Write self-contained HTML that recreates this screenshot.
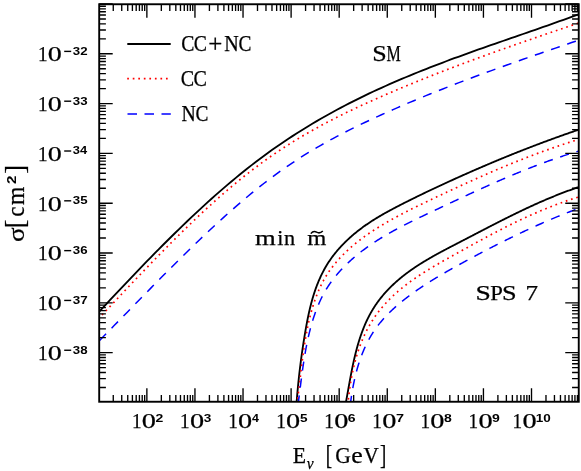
<!DOCTYPE html>
<html><head><meta charset="utf-8"><title>cross section</title>
<style>html,body{margin:0;padding:0;background:#fff;}body{width:581px;height:471px;overflow:hidden;font-family:"Liberation Serif",serif;}svg{display:block;will-change:transform;}</style></head>
<body>
<svg width="581" height="471" viewBox="0 0 581 471">
<rect width="581" height="471" fill="#fff"/>
<defs><clipPath id="cp"><rect x="99.20" y="4.25" width="479.55" height="397.50"/></clipPath></defs>
<g clip-path="url(#cp)" fill="none">
<path d="M98.20 312.75 L102.25 308.39 L106.29 304.05 L110.34 299.71 L114.39 295.39 L118.43 291.09 L122.48 286.80 L126.53 282.53 L130.57 278.27 L134.62 274.04 L138.67 269.82 L142.71 265.63 L146.76 261.46 L150.81 257.31 L154.85 253.19 L158.90 249.09 L162.95 245.02 L166.99 240.98 L171.04 236.97 L175.09 232.99 L179.13 229.05 L183.18 225.13 L187.23 221.25 L191.27 217.41 L195.32 213.60 L199.37 209.84 L203.41 206.11 L207.46 202.42 L211.51 198.77 L215.55 195.17 L219.60 191.61 L223.65 188.10 L227.69 184.63 L231.74 181.21 L235.79 177.84 L239.83 174.52 L243.88 171.25 L247.93 168.03 L251.97 164.86 L256.02 161.75 L260.07 158.70 L264.11 155.70 L268.16 152.75 L272.21 149.85 L276.25 147.01 L280.30 144.21 L284.35 141.47 L288.39 138.77 L292.44 136.12 L296.49 133.51 L300.53 130.96 L304.58 128.44 L308.63 125.97 L312.67 123.54 L316.72 121.15 L320.77 118.80 L324.81 116.49 L328.86 114.22 L332.91 111.99 L336.95 109.80 L341.00 107.64 L345.04 105.51 L349.09 103.42 L353.14 101.36 L357.18 99.33 L361.23 97.34 L365.28 95.37 L369.32 93.44 L373.37 91.53 L377.42 89.65 L381.46 87.80 L385.51 85.98 L389.56 84.18 L393.60 82.41 L397.65 80.66 L401.70 78.93 L405.74 77.23 L409.79 75.54 L413.84 73.88 L417.88 72.24 L421.93 70.62 L425.98 69.02 L430.02 67.43 L434.07 65.86 L438.12 64.31 L442.16 62.77 L446.21 61.25 L450.26 59.74 L454.30 58.24 L458.35 56.76 L462.40 55.29 L466.44 53.82 L470.49 52.37 L474.54 50.93 L478.58 49.49 L482.63 48.06 L486.68 46.64 L490.72 45.22 L494.77 43.81 L498.82 42.41 L502.86 41.00 L506.91 39.60 L510.96 38.20 L515.00 36.80 L519.05 35.40 L523.10 34.00 L527.14 32.60 L531.19 31.20 L535.24 29.79 L539.28 28.38 L543.33 26.96 L547.38 25.54 L551.42 24.11 L555.47 22.68 L559.52 21.24 L563.56 19.78 L567.61 18.32 L571.66 16.85 L575.70 15.37 L579.75 13.87" stroke="#000" stroke-width="1.85" stroke-linejoin="round"/>
<path d="M98.20 319.02 L102.25 314.72 L106.29 310.41 L110.34 306.10 L114.39 301.80 L118.43 297.50 L122.48 293.21 L126.53 288.93 L130.57 284.66 L134.62 280.40 L138.67 276.16 L142.71 271.93 L146.76 267.72 L150.81 263.52 L154.85 259.35 L158.90 255.21 L162.95 251.08 L166.99 246.99 L171.04 242.92 L175.09 238.88 L179.13 234.87 L183.18 230.90 L187.23 226.96 L191.27 223.06 L195.32 219.20 L199.37 215.37 L203.41 211.59 L207.46 207.86 L211.51 204.17 L215.55 200.53 L219.60 196.94 L223.65 193.40 L227.69 189.91 L231.74 186.47 L235.79 183.10 L239.83 179.78 L243.88 176.52 L247.93 173.33 L251.97 170.19 L256.02 167.12 L260.07 164.11 L264.11 161.16 L268.16 158.27 L272.21 155.44 L276.25 152.67 L280.30 149.95 L284.35 147.30 L288.39 144.70 L292.44 142.16 L296.49 139.67 L300.53 137.23 L304.58 134.84 L308.63 132.49 L312.67 130.20 L316.72 127.94 L320.77 125.73 L324.81 123.56 L328.86 121.43 L332.91 119.34 L336.95 117.28 L341.00 115.26 L345.04 113.27 L349.09 111.30 L353.14 109.37 L357.18 107.47 L361.23 105.59 L365.28 103.73 L369.32 101.89 L373.37 100.08 L377.42 98.28 L381.46 96.50 L385.51 94.74 L389.56 92.99 L393.60 91.26 L397.65 89.54 L401.70 87.84 L405.74 86.15 L409.79 84.47 L413.84 82.81 L417.88 81.16 L421.93 79.53 L425.98 77.90 L430.02 76.29 L434.07 74.70 L438.12 73.11 L442.16 71.54 L446.21 69.97 L450.26 68.42 L454.30 66.88 L458.35 65.35 L462.40 63.83 L466.44 62.32 L470.49 60.81 L474.54 59.32 L478.58 57.84 L482.63 56.36 L486.68 54.89 L490.72 53.43 L494.77 51.98 L498.82 50.53 L502.86 49.10 L506.91 47.66 L510.96 46.24 L515.00 44.82 L519.05 43.41 L523.10 42.00 L527.14 40.59 L531.19 39.20 L535.24 37.80 L539.28 36.41 L543.33 35.02 L547.38 33.64 L551.42 32.26 L555.47 30.89 L559.52 29.51 L563.56 28.14 L567.61 26.77 L571.66 25.40 L575.70 24.04 L579.75 22.67" stroke="#f00" stroke-width="1.7" stroke-dasharray="1.7 3.8" stroke-linejoin="round"/>
<path d="M98.20 341.79 L102.25 337.69 L106.29 333.59 L110.34 329.47 L114.39 325.34 L118.43 321.21 L122.48 317.07 L126.53 312.93 L130.57 308.79 L134.62 304.65 L138.67 300.51 L142.71 296.37 L146.76 292.24 L150.81 288.12 L154.85 284.01 L158.90 279.91 L162.95 275.83 L166.99 271.76 L171.04 267.70 L175.09 263.67 L179.13 259.65 L183.18 255.66 L187.23 251.69 L191.27 247.75 L195.32 243.83 L199.37 239.94 L203.41 236.09 L207.46 232.27 L211.51 228.48 L215.55 224.73 L219.60 221.02 L223.65 217.35 L227.69 213.72 L231.74 210.13 L235.79 206.59 L239.83 203.10 L243.88 199.65 L247.93 196.26 L251.97 192.92 L256.02 189.63 L260.07 186.40 L264.11 183.23 L268.16 180.12 L272.21 177.07 L276.25 174.09 L280.30 171.16 L284.35 168.31 L288.39 165.52 L292.44 162.80 L296.49 160.13 L300.53 157.52 L304.58 154.98 L308.63 152.48 L312.67 150.04 L316.72 147.65 L320.77 145.31 L324.81 143.02 L328.86 140.77 L332.91 138.57 L336.95 136.40 L341.00 134.28 L345.04 132.19 L349.09 130.14 L353.14 128.12 L357.18 126.14 L361.23 124.18 L365.28 122.25 L369.32 120.35 L373.37 118.47 L377.42 116.61 L381.46 114.77 L385.51 112.95 L389.56 111.14 L393.60 109.36 L397.65 107.59 L401.70 105.84 L405.74 104.11 L409.79 102.39 L413.84 100.69 L417.88 99.00 L421.93 97.33 L425.98 95.67 L430.02 94.03 L434.07 92.40 L438.12 90.79 L442.16 89.18 L446.21 87.60 L450.26 86.02 L454.30 84.45 L458.35 82.90 L462.40 81.36 L466.44 79.83 L470.49 78.31 L474.54 76.80 L478.58 75.30 L482.63 73.80 L486.68 72.32 L490.72 70.85 L494.77 69.38 L498.82 67.92 L502.86 66.47 L506.91 65.03 L510.96 63.59 L515.00 62.16 L519.05 60.73 L523.10 59.32 L527.14 57.90 L531.19 56.49 L535.24 55.08 L539.28 53.68 L543.33 52.28 L547.38 50.89 L551.42 49.50 L555.47 48.10 L559.52 46.72 L563.56 45.33 L567.61 43.94 L571.66 42.56 L575.70 41.17 L579.75 39.79" stroke="#00f" stroke-width="1.5" stroke-dasharray="9.2 7.85" stroke-linejoin="round" stroke-dashoffset="-2"/>
<path d="M296.45 404.36 L296.52 403.53 L296.58 402.70 L296.64 401.86 L296.71 401.03 L296.77 400.19 L296.84 399.35 L296.90 398.51 L296.97 397.67 L297.04 396.83 L297.11 395.99 L297.18 395.14 L297.26 394.29 L297.33 393.45 L297.41 392.60 L297.48 391.75 L297.56 390.90 L297.64 390.05 L297.72 389.19 L297.80 388.34 L297.88 387.48 L297.96 386.63 L298.04 385.77 L298.13 384.91 L298.21 384.05 L298.30 383.19 L298.39 382.33 L298.48 381.47 L298.57 380.61 L298.66 379.74 L298.75 378.88 L298.84 378.01 L298.94 377.15 L299.03 376.28 L299.13 375.41 L299.23 374.54 L299.32 373.68 L299.42 372.81 L299.52 371.94 L299.63 371.07 L299.73 370.19 L299.83 369.32 L299.94 368.45 L300.04 367.58 L300.15 366.71 L300.26 365.83 L300.37 364.96 L300.48 364.08 L300.59 363.21 L300.70 362.33 L300.81 361.46 L300.93 360.58 L301.04 359.71 L301.16 358.83 L301.28 357.95 L301.40 357.08 L301.52 356.20 L301.64 355.32 L301.76 354.45 L301.88 353.57 L302.00 352.69 L302.13 351.81 L302.26 350.94 L302.38 350.06 L302.51 349.18 L302.64 348.31 L302.77 347.43 L302.90 346.55 L303.03 345.67 L303.17 344.80 L303.30 343.92 L303.44 343.04 L303.57 342.17 L303.71 341.29 L303.85 340.42 L303.99 339.54 L304.13 338.66 L304.27 337.79 L304.41 336.91 L304.56 336.04 L304.70 335.17 L304.85 334.29 L305.00 333.42 L305.14 332.55 L305.29 331.68 L305.44 330.80 L305.59 329.93 L305.75 329.06 L305.90 328.19 L306.06 327.32 L306.21 326.46 L306.37 325.59 L306.53 324.72 L306.69 323.85 L306.85 322.99 L307.02 322.12 L307.18 321.26 L307.35 320.40 L307.52 319.53 L307.69 318.67 L307.87 317.81 L308.04 316.95 L308.22 316.09 L308.40 315.24 L308.59 314.38 L308.77 313.52 L308.96 312.67 L309.15 311.81 L309.34 310.96 L309.54 310.11 L309.74 309.26 L309.94 308.41 L310.14 307.56 L310.35 306.71 L310.56 305.87 L310.78 305.02 L310.99 304.18 L311.21 303.34 L311.44 302.50 L311.66 301.66 L311.89 300.82 L312.13 299.98 L312.36 299.15 L312.60 298.31 L312.85 297.48 L313.10 296.65 L313.35 295.82 L313.60 294.99 L313.86 294.17 L314.13 293.34 L314.40 292.52 L314.67 291.70 L314.95 290.88 L315.23 290.06 L315.51 289.25 L315.80 288.43 L316.09 287.62 L316.39 286.81 L316.70 286.00 L317.00 285.19 L317.32 284.39 L317.63 283.59 L317.95 282.79 L318.28 281.99 L318.61 281.19 L318.95 280.40 L319.29 279.61 L319.64 278.82 L319.99 278.03 L320.35 277.25 L320.71 276.46 L321.07 275.68 L321.45 274.91 L321.83 274.13 L322.21 273.36 L322.60 272.59 L322.99 271.82 L323.39 271.06 L323.80 270.30 L324.21 269.54 L324.63 268.78 L325.05 268.03 L325.48 267.27 L325.92 266.53 L326.36 265.78 L326.81 265.04 L327.26 264.30 L327.72 263.56 L328.19 262.83 L328.66 262.10 L329.14 261.37 L329.63 260.65 L330.12 259.93 L330.62 259.21 L331.13 258.49 L331.64 257.78 L332.16 257.07 L332.68 256.37 L333.21 255.67 L333.75 254.97 L334.29 254.27 L334.84 253.58 L335.39 252.90 L335.95 252.21 L336.51 251.53 L337.08 250.85 L337.65 250.18 L338.23 249.51 L338.82 248.85 L339.41 248.18 L340.00 247.53 L340.60 246.87 L341.20 246.22 L341.81 245.57 L342.42 244.93 L343.04 244.29 L343.66 243.66 L344.28 243.03 L344.91 242.40 L345.54 241.78 L346.18 241.16 L346.81 240.55 L347.46 239.94 L348.10 239.33 L348.75 238.73 L349.40 238.13 L350.06 237.54 L350.71 236.95 L351.37 236.37 L352.04 235.79 L352.70 235.21 L353.37 234.64 L354.04 234.08 L354.71 233.52 L355.39 232.96 L356.07 232.41 L356.75 231.86 L357.43 231.32 L358.11 230.78 L358.80 230.24 L359.48 229.71 L360.17 229.19 L360.86 228.67 L361.56 228.15 L362.25 227.63 L362.95 227.12 L363.65 226.62 L364.35 226.12 L365.06 225.62 L365.76 225.12 L366.47 224.63 L367.18 224.14 L367.89 223.66 L368.60 223.18 L369.32 222.70 L370.03 222.23 L370.75 221.76 L371.47 221.29 L372.19 220.82 L372.92 220.36 L373.64 219.90 L374.37 219.45 L375.10 218.99 L375.83 218.54 L376.56 218.09 L377.29 217.65 L378.03 217.21 L378.76 216.77 L379.50 216.33 L380.24 215.89 L380.98 215.46 L381.72 215.03 L382.47 214.60 L383.21 214.17 L383.96 213.75 L384.71 213.32 L385.46 212.90 L386.21 212.48 L386.97 212.07 L387.72 211.65 L388.48 211.24 L389.23 210.82 L389.99 210.41 L390.75 210.00 L391.51 209.60 L392.27 209.19 L393.04 208.78 L393.80 208.38 L394.57 207.98 L395.33 207.57 L396.10 207.17 L396.87 206.77 L397.64 206.37 L398.41 205.97 L399.19 205.57 L399.96 205.18 L400.73 204.78 L401.51 204.38 L402.29 203.99 L403.07 203.59 L403.84 203.20 L404.62 202.80 L405.41 202.41 L406.19 202.01 L406.97 201.62 L407.75 201.23 L408.54 200.83 L409.32 200.44 L410.11 200.05 L410.90 199.66 L411.69 199.27 L412.47 198.88 L413.26 198.49 L414.05 198.10 L414.85 197.71 L415.64 197.32 L416.43 196.93 L417.22 196.54 L418.02 196.15 L418.81 195.76 L419.61 195.38 L420.40 194.99 L421.20 194.60 L422.00 194.22 L422.80 193.83 L423.59 193.45 L424.39 193.06 L425.19 192.68 L425.99 192.29 L426.79 191.91 L427.59 191.53 L428.39 191.15 L429.20 190.76 L430.00 190.38 L430.80 190.00 L431.60 189.62 L432.41 189.24 L433.21 188.86 L434.01 188.48 L434.82 188.11 L435.62 187.73 L436.43 187.35 L437.23 186.98 L438.04 186.60 L438.84 186.22 L439.65 185.85 L440.45 185.47 L441.26 185.10 L442.07 184.73 L442.87 184.35 L443.68 183.98 L444.49 183.61 L445.29 183.24 L446.10 182.87 L446.91 182.50 L447.71 182.13 L448.52 181.76 L449.33 181.39 L450.13 181.02 L450.94 180.65 L451.75 180.29 L452.55 179.92 L453.36 179.56 L454.17 179.19 L454.97 178.83 L455.78 178.46 L456.58 178.10 L457.39 177.74 L458.20 177.37 L459.00 177.01 L459.81 176.65 L460.61 176.29 L461.41 175.93 L462.22 175.57 L463.02 175.22 L463.83 174.86 L464.63 174.50 L465.43 174.15 L466.24 173.79 L467.04 173.43 L467.84 173.08 L468.64 172.73 L469.45 172.37 L470.25 172.02 L471.05 171.67 L471.85 171.32 L472.65 170.97 L473.45 170.62 L474.25 170.27 L475.05 169.92 L475.85 169.57 L476.66 169.22 L477.46 168.87 L478.26 168.53 L479.06 168.18 L479.86 167.84 L480.66 167.49 L481.46 167.15 L482.26 166.80 L483.05 166.46 L483.85 166.12 L484.65 165.78 L485.45 165.44 L486.25 165.09 L487.05 164.75 L487.85 164.41 L488.65 164.08 L489.45 163.74 L490.25 163.40 L491.05 163.06 L491.85 162.72 L492.65 162.39 L493.45 162.05 L494.25 161.72 L495.05 161.38 L495.85 161.05 L496.65 160.72 L497.45 160.38 L498.25 160.05 L499.05 159.72 L499.85 159.39 L500.65 159.06 L501.45 158.73 L502.25 158.40 L503.05 158.07 L503.85 157.74 L504.65 157.41 L505.45 157.08 L506.25 156.76 L507.05 156.43 L507.85 156.10 L508.66 155.78 L509.46 155.45 L510.26 155.13 L511.06 154.80 L511.86 154.48 L512.67 154.16 L513.47 153.83 L514.27 153.51 L515.08 153.19 L515.88 152.87 L516.69 152.55 L517.49 152.23 L518.29 151.91 L519.10 151.59 L519.91 151.27 L520.71 150.95 L521.52 150.64 L522.32 150.32 L523.13 150.00 L523.94 149.69 L524.74 149.37 L525.55 149.05 L526.36 148.74 L527.17 148.43 L527.98 148.11 L528.79 147.80 L529.60 147.49 L530.41 147.17 L531.22 146.86 L532.03 146.55 L532.84 146.24 L533.65 145.93 L534.46 145.62 L535.28 145.31 L536.09 145.00 L536.90 144.69 L537.72 144.38 L538.53 144.07 L539.35 143.77 L540.16 143.46 L540.98 143.15 L541.80 142.85 L542.61 142.54 L543.43 142.23 L544.25 141.93 L545.07 141.63 L545.89 141.32 L546.71 141.02 L547.53 140.71 L548.35 140.41 L549.17 140.11 L550.00 139.81 L550.82 139.51 L551.64 139.20 L552.47 138.90 L553.29 138.60 L554.12 138.30 L554.95 138.00 L555.77 137.70 L556.60 137.41 L557.43 137.11 L558.26 136.81 L559.09 136.51 L559.92 136.21 L560.75 135.92 L561.58 135.62 L562.42 135.32 L563.25 135.03 L564.08 134.73 L564.92 134.44 L565.75 134.14 L566.59 133.85 L567.43 133.56 L568.27 133.26 L569.11 132.97 L569.95 132.68 L570.79 132.38 L571.63 132.09 L572.47 131.80 L573.31 131.51 L574.16 131.22 L575.00 130.93 L575.85 130.64 L576.70 130.35 L577.54 130.06 L578.39 129.77 L579.24 129.48 L580.09 129.19 L580.94 128.90" stroke="#000" stroke-width="1.85" stroke-linejoin="round"/>
<path d="M296.87 404.27 L296.98 403.47 L297.10 402.67 L297.21 401.87 L297.32 401.06 L297.43 400.26 L297.54 399.45 L297.65 398.64 L297.76 397.83 L297.87 397.01 L297.97 396.20 L298.08 395.38 L298.18 394.56 L298.29 393.74 L298.39 392.92 L298.49 392.10 L298.60 391.27 L298.70 390.44 L298.80 389.62 L298.90 388.79 L299.00 387.96 L299.10 387.12 L299.20 386.29 L299.30 385.46 L299.40 384.62 L299.50 383.78 L299.60 382.95 L299.70 382.11 L299.80 381.27 L299.89 380.42 L299.99 379.58 L300.09 378.74 L300.19 377.89 L300.29 377.05 L300.39 376.20 L300.49 375.35 L300.58 374.51 L300.68 373.66 L300.78 372.81 L300.88 371.96 L300.98 371.10 L301.08 370.25 L301.19 369.40 L301.29 368.55 L301.39 367.69 L301.49 366.84 L301.60 365.98 L301.70 365.13 L301.81 364.27 L301.91 363.41 L302.02 362.56 L302.12 361.70 L302.23 360.84 L302.34 359.98 L302.45 359.12 L302.56 358.26 L302.67 357.40 L302.79 356.55 L302.90 355.69 L303.02 354.83 L303.13 353.97 L303.25 353.11 L303.37 352.25 L303.49 351.39 L303.61 350.53 L303.73 349.67 L303.86 348.81 L303.98 347.95 L304.11 347.09 L304.24 346.23 L304.37 345.37 L304.50 344.51 L304.64 343.65 L304.77 342.80 L304.91 341.94 L305.05 341.08 L305.19 340.22 L305.33 339.37 L305.48 338.51 L305.62 337.66 L305.77 336.80 L305.92 335.95 L306.08 335.09 L306.23 334.24 L306.39 333.39 L306.55 332.54 L306.71 331.68 L306.87 330.83 L307.04 329.98 L307.21 329.14 L307.38 328.29 L307.55 327.44 L307.73 326.59 L307.90 325.75 L308.09 324.90 L308.27 324.06 L308.45 323.22 L308.64 322.38 L308.83 321.54 L309.03 320.70 L309.23 319.86 L309.43 319.03 L309.63 318.19 L309.83 317.36 L310.04 316.52 L310.25 315.69 L310.47 314.86 L310.69 314.03 L310.91 313.21 L311.13 312.38 L311.36 311.56 L311.59 310.73 L311.82 309.91 L312.06 309.09 L312.30 308.28 L312.54 307.46 L312.79 306.64 L313.04 305.83 L313.30 305.02 L313.55 304.21 L313.81 303.40 L314.08 302.60 L314.35 301.79 L314.62 300.99 L314.90 300.19 L315.18 299.39 L315.46 298.60 L315.75 297.80 L316.04 297.01 L316.34 296.22 L316.64 295.44 L316.95 294.65 L317.26 293.87 L317.57 293.09 L317.89 292.31 L318.22 291.53 L318.55 290.76 L318.88 289.98 L319.22 289.21 L319.56 288.45 L319.91 287.68 L320.27 286.92 L320.63 286.16 L320.99 285.40 L321.36 284.65 L321.74 283.90 L322.12 283.15 L322.51 282.40 L322.90 281.66 L323.30 280.92 L323.70 280.18 L324.11 279.44 L324.53 278.71 L324.95 277.98 L325.38 277.25 L325.81 276.53 L326.25 275.81 L326.70 275.09 L327.15 274.37 L327.61 273.66 L328.08 272.95 L328.55 272.25 L329.03 271.54 L329.52 270.85 L330.01 270.15 L330.51 269.46 L331.01 268.77 L331.52 268.08 L332.03 267.40 L332.55 266.72 L333.08 266.04 L333.61 265.37 L334.14 264.70 L334.68 264.03 L335.23 263.37 L335.78 262.71 L336.33 262.06 L336.89 261.40 L337.45 260.76 L338.02 260.11 L338.59 259.47 L339.17 258.83 L339.75 258.20 L340.33 257.57 L340.92 256.95 L341.51 256.33 L342.11 255.71 L342.70 255.09 L343.31 254.48 L343.91 253.88 L344.52 253.28 L345.13 252.68 L345.74 252.09 L346.36 251.50 L346.98 250.91 L347.60 250.33 L348.22 249.75 L348.85 249.18 L349.48 248.61 L350.11 248.04 L350.75 247.48 L351.39 246.92 L352.03 246.37 L352.67 245.81 L353.32 245.27 L353.97 244.72 L354.62 244.18 L355.27 243.64 L355.93 243.11 L356.59 242.58 L357.25 242.05 L357.91 241.52 L358.58 241.00 L359.25 240.48 L359.92 239.97 L360.59 239.46 L361.27 238.95 L361.94 238.44 L362.62 237.94 L363.30 237.44 L363.99 236.94 L364.67 236.44 L365.36 235.95 L366.05 235.46 L366.75 234.98 L367.44 234.49 L368.14 234.01 L368.84 233.53 L369.54 233.06 L370.24 232.58 L370.94 232.11 L371.65 231.64 L372.36 231.17 L373.07 230.71 L373.78 230.24 L374.50 229.78 L375.21 229.33 L375.93 228.87 L376.65 228.42 L377.37 227.96 L378.09 227.51 L378.82 227.06 L379.54 226.62 L380.27 226.17 L381.00 225.73 L381.73 225.29 L382.46 224.85 L383.20 224.41 L383.93 223.98 L384.67 223.54 L385.41 223.11 L386.14 222.68 L386.89 222.25 L387.63 221.82 L388.37 221.39 L389.12 220.97 L389.86 220.55 L390.61 220.12 L391.36 219.70 L392.11 219.29 L392.86 218.87 L393.61 218.45 L394.37 218.04 L395.12 217.63 L395.88 217.21 L396.63 216.80 L397.39 216.39 L398.15 215.99 L398.91 215.58 L399.67 215.18 L400.43 214.77 L401.19 214.37 L401.96 213.97 L402.72 213.57 L403.49 213.17 L404.25 212.77 L405.02 212.38 L405.79 211.98 L406.56 211.59 L407.33 211.19 L408.10 210.80 L408.87 210.41 L409.64 210.02 L410.41 209.63 L411.18 209.24 L411.95 208.85 L412.73 208.47 L413.50 208.08 L414.28 207.70 L415.05 207.31 L415.83 206.93 L416.60 206.55 L417.38 206.17 L418.15 205.79 L418.93 205.41 L419.71 205.03 L420.49 204.65 L421.26 204.27 L422.04 203.90 L422.82 203.52 L423.60 203.15 L424.38 202.77 L425.16 202.40 L425.93 202.02 L426.71 201.65 L427.49 201.28 L428.27 200.91 L429.05 200.54 L429.83 200.16 L430.61 199.79 L431.39 199.42 L432.17 199.05 L432.94 198.69 L433.72 198.32 L434.50 197.95 L435.28 197.58 L436.06 197.21 L436.84 196.84 L437.61 196.48 L438.39 196.11 L439.17 195.74 L439.95 195.38 L440.72 195.01 L441.50 194.65 L442.28 194.28 L443.05 193.92 L443.83 193.55 L444.61 193.19 L445.38 192.83 L446.16 192.46 L446.93 192.10 L447.71 191.74 L448.48 191.37 L449.26 191.01 L450.04 190.65 L450.81 190.29 L451.59 189.93 L452.36 189.57 L453.14 189.21 L453.91 188.85 L454.69 188.49 L455.46 188.13 L456.24 187.77 L457.01 187.42 L457.78 187.06 L458.56 186.70 L459.33 186.35 L460.11 185.99 L460.88 185.63 L461.66 185.28 L462.43 184.92 L463.21 184.57 L463.98 184.22 L464.76 183.86 L465.53 183.51 L466.30 183.16 L467.08 182.80 L467.85 182.45 L468.63 182.10 L469.40 181.75 L470.18 181.40 L470.95 181.05 L471.73 180.70 L472.50 180.35 L473.28 180.00 L474.05 179.66 L474.83 179.31 L475.60 178.96 L476.38 178.62 L477.15 178.27 L477.93 177.92 L478.70 177.58 L479.48 177.24 L480.25 176.89 L481.03 176.55 L481.81 176.20 L482.58 175.86 L483.36 175.52 L484.14 175.18 L484.91 174.84 L485.69 174.50 L486.47 174.16 L487.24 173.82 L488.02 173.48 L488.80 173.14 L489.58 172.80 L490.35 172.47 L491.13 172.13 L491.91 171.80 L492.69 171.46 L493.47 171.13 L494.25 170.79 L495.02 170.46 L495.80 170.12 L496.58 169.79 L497.36 169.46 L498.14 169.13 L498.92 168.80 L499.70 168.47 L500.48 168.14 L501.27 167.81 L502.05 167.48 L502.83 167.15 L503.61 166.83 L504.39 166.50 L505.18 166.17 L505.96 165.85 L506.74 165.52 L507.53 165.20 L508.31 164.88 L509.09 164.55 L509.88 164.23 L510.66 163.91 L511.45 163.59 L512.23 163.27 L513.02 162.95 L513.81 162.63 L514.59 162.31 L515.38 161.99 L516.17 161.68 L516.95 161.36 L517.74 161.05 L518.53 160.73 L519.32 160.42 L520.11 160.10 L520.90 159.79 L521.69 159.48 L522.48 159.17 L523.27 158.86 L524.06 158.55 L524.85 158.24 L525.65 157.93 L526.44 157.62 L527.23 157.31 L528.03 157.01 L528.82 156.70 L529.61 156.39 L530.41 156.09 L531.20 155.79 L532.00 155.48 L532.80 155.18 L533.59 154.88 L534.39 154.58 L535.19 154.28 L535.99 153.98 L536.79 153.68 L537.59 153.38 L538.39 153.08 L539.19 152.79 L539.99 152.49 L540.79 152.20 L541.59 151.90 L542.40 151.61 L543.20 151.32 L544.01 151.03 L544.81 150.73 L545.62 150.44 L546.42 150.16 L547.23 149.87 L548.04 149.58 L548.84 149.29 L549.65 149.01 L550.46 148.72 L551.27 148.44 L552.08 148.15 L552.89 147.87 L553.70 147.59 L554.52 147.30 L555.33 147.02 L556.14 146.74 L556.96 146.47 L557.77 146.19 L558.59 145.91 L559.40 145.63 L560.22 145.36 L561.04 145.08 L561.86 144.81 L562.67 144.54 L563.49 144.26 L564.32 143.99 L565.14 143.72 L565.96 143.45 L566.78 143.18 L567.60 142.92 L568.43 142.65 L569.25 142.38 L570.08 142.12 L570.91 141.85 L571.73 141.59 L572.56 141.33 L573.39 141.06 L574.22 140.80 L575.05 140.54 L575.88 140.28 L576.71 140.03 L577.55 139.77 L578.38 139.51 L579.21 139.26 L580.05 139.00 L580.88 138.75" stroke="#f00" stroke-width="1.7" stroke-dasharray="1.7 3.8" stroke-linejoin="round"/>
<path d="M298.07 404.55 L298.18 403.76 L298.29 402.96 L298.39 402.16 L298.50 401.35 L298.60 400.55 L298.71 399.75 L298.81 398.94 L298.91 398.14 L299.02 397.33 L299.12 396.52 L299.22 395.71 L299.33 394.90 L299.43 394.09 L299.53 393.28 L299.63 392.46 L299.73 391.65 L299.84 390.83 L299.94 390.02 L300.04 389.20 L300.14 388.38 L300.25 387.56 L300.35 386.74 L300.45 385.92 L300.56 385.10 L300.66 384.28 L300.76 383.46 L300.87 382.64 L300.97 381.81 L301.08 380.99 L301.18 380.16 L301.29 379.34 L301.40 378.51 L301.51 377.69 L301.61 376.86 L301.72 376.03 L301.83 375.21 L301.94 374.38 L302.05 373.55 L302.17 372.72 L302.28 371.89 L302.39 371.07 L302.51 370.24 L302.62 369.41 L302.74 368.58 L302.86 367.75 L302.97 366.92 L303.09 366.09 L303.22 365.26 L303.34 364.43 L303.46 363.60 L303.59 362.77 L303.71 361.94 L303.84 361.11 L303.97 360.29 L304.10 359.46 L304.23 358.63 L304.36 357.80 L304.50 356.97 L304.63 356.14 L304.77 355.31 L304.91 354.49 L305.05 353.66 L305.19 352.83 L305.34 352.01 L305.48 351.18 L305.63 350.35 L305.78 349.53 L305.93 348.71 L306.09 347.88 L306.24 347.06 L306.40 346.23 L306.56 345.41 L306.72 344.59 L306.89 343.77 L307.05 342.95 L307.22 342.13 L307.39 341.31 L307.57 340.49 L307.74 339.68 L307.92 338.86 L308.10 338.05 L308.28 337.23 L308.46 336.42 L308.65 335.60 L308.84 334.79 L309.03 333.98 L309.23 333.17 L309.43 332.36 L309.63 331.56 L309.83 330.75 L310.03 329.95 L310.24 329.14 L310.45 328.34 L310.67 327.54 L310.88 326.74 L311.10 325.94 L311.33 325.14 L311.55 324.34 L311.78 323.55 L312.01 322.76 L312.25 321.96 L312.49 321.17 L312.73 320.38 L312.97 319.60 L313.22 318.81 L313.47 318.03 L313.73 317.24 L313.98 316.46 L314.25 315.68 L314.51 314.90 L314.78 314.13 L315.05 313.35 L315.33 312.58 L315.61 311.81 L315.89 311.04 L316.18 310.27 L316.47 309.51 L316.76 308.74 L317.06 307.98 L317.37 307.22 L317.67 306.46 L317.98 305.71 L318.30 304.95 L318.62 304.20 L318.95 303.45 L319.28 302.70 L319.61 301.96 L319.95 301.22 L320.29 300.47 L320.64 299.74 L320.99 299.00 L321.35 298.26 L321.71 297.53 L322.08 296.80 L322.45 296.08 L322.83 295.35 L323.21 294.63 L323.60 293.91 L323.99 293.19 L324.39 292.48 L324.80 291.76 L325.21 291.05 L325.62 290.35 L326.04 289.64 L326.47 288.94 L326.90 288.24 L327.34 287.54 L327.78 286.85 L328.23 286.16 L328.69 285.47 L329.15 284.78 L329.62 284.10 L330.09 283.42 L330.57 282.74 L331.05 282.07 L331.54 281.40 L332.03 280.73 L332.53 280.07 L333.03 279.40 L333.54 278.75 L334.06 278.09 L334.57 277.44 L335.10 276.79 L335.62 276.14 L336.15 275.50 L336.69 274.86 L337.23 274.22 L337.77 273.59 L338.32 272.96 L338.87 272.33 L339.43 271.70 L339.98 271.08 L340.55 270.47 L341.11 269.85 L341.68 269.24 L342.25 268.64 L342.83 268.03 L343.41 267.44 L343.99 266.84 L344.57 266.25 L345.16 265.66 L345.75 265.07 L346.34 264.49 L346.94 263.91 L347.54 263.34 L348.14 262.77 L348.74 262.20 L349.35 261.64 L349.95 261.08 L350.57 260.52 L351.18 259.96 L351.80 259.41 L352.41 258.87 L353.04 258.32 L353.66 257.78 L354.29 257.24 L354.92 256.71 L355.55 256.17 L356.18 255.65 L356.82 255.12 L357.46 254.60 L358.10 254.08 L358.74 253.56 L359.38 253.05 L360.03 252.54 L360.68 252.03 L361.33 251.52 L361.99 251.02 L362.64 250.52 L363.30 250.03 L363.96 249.53 L364.63 249.04 L365.29 248.55 L365.96 248.07 L366.63 247.58 L367.30 247.10 L367.97 246.62 L368.64 246.15 L369.32 245.68 L370.00 245.21 L370.68 244.74 L371.36 244.27 L372.05 243.81 L372.73 243.35 L373.42 242.89 L374.11 242.44 L374.80 241.98 L375.49 241.53 L376.19 241.08 L376.89 240.64 L377.58 240.19 L378.28 239.75 L378.98 239.31 L379.69 238.87 L380.39 238.44 L381.10 238.00 L381.80 237.57 L382.51 237.14 L383.22 236.72 L383.94 236.29 L384.65 235.87 L385.36 235.44 L386.08 235.02 L386.80 234.61 L387.52 234.19 L388.24 233.78 L388.96 233.36 L389.68 232.95 L390.40 232.54 L391.13 232.14 L391.85 231.73 L392.58 231.33 L393.31 230.92 L394.04 230.52 L394.77 230.12 L395.50 229.73 L396.23 229.33 L396.97 228.94 L397.70 228.54 L398.44 228.15 L399.17 227.76 L399.91 227.37 L400.65 226.98 L401.39 226.60 L402.13 226.21 L402.87 225.83 L403.61 225.44 L404.35 225.06 L405.10 224.68 L405.84 224.30 L406.59 223.93 L407.33 223.55 L408.08 223.17 L408.82 222.80 L409.57 222.42 L410.32 222.05 L411.07 221.68 L411.82 221.31 L412.57 220.94 L413.32 220.57 L414.07 220.20 L414.82 219.83 L415.57 219.47 L416.32 219.10 L417.07 218.74 L417.83 218.37 L418.58 218.01 L419.33 217.65 L420.09 217.28 L420.84 216.92 L421.59 216.56 L422.35 216.20 L423.10 215.84 L423.86 215.48 L424.61 215.12 L425.37 214.76 L426.12 214.40 L426.88 214.05 L427.63 213.69 L428.39 213.33 L429.14 212.97 L429.90 212.62 L430.65 212.26 L431.41 211.90 L432.16 211.55 L432.92 211.19 L433.67 210.84 L434.43 210.48 L435.18 210.13 L435.94 209.77 L436.69 209.41 L437.44 209.06 L438.20 208.70 L438.95 208.35 L439.70 207.99 L440.46 207.64 L441.21 207.28 L441.96 206.93 L442.72 206.58 L443.47 206.22 L444.22 205.87 L444.97 205.51 L445.73 205.16 L446.48 204.80 L447.23 204.45 L447.98 204.10 L448.73 203.74 L449.48 203.39 L450.24 203.04 L450.99 202.68 L451.74 202.33 L452.49 201.98 L453.24 201.63 L453.99 201.27 L454.74 200.92 L455.49 200.57 L456.24 200.22 L457.00 199.87 L457.75 199.52 L458.50 199.17 L459.25 198.81 L460.00 198.46 L460.75 198.11 L461.50 197.76 L462.25 197.41 L463.00 197.07 L463.75 196.72 L464.50 196.37 L465.25 196.02 L466.00 195.67 L466.75 195.32 L467.50 194.98 L468.25 194.63 L469.00 194.28 L469.76 193.93 L470.51 193.59 L471.26 193.24 L472.01 192.90 L472.76 192.55 L473.51 192.21 L474.26 191.86 L475.01 191.52 L475.76 191.17 L476.51 190.83 L477.27 190.49 L478.02 190.15 L478.77 189.80 L479.52 189.46 L480.27 189.12 L481.02 188.78 L481.78 188.44 L482.53 188.10 L483.28 187.76 L484.03 187.42 L484.78 187.08 L485.54 186.74 L486.29 186.40 L487.04 186.07 L487.80 185.73 L488.55 185.39 L489.30 185.06 L490.06 184.72 L490.81 184.39 L491.56 184.05 L492.32 183.72 L493.07 183.38 L493.83 183.05 L494.58 182.72 L495.34 182.39 L496.09 182.05 L496.85 181.72 L497.60 181.39 L498.36 181.06 L499.12 180.73 L499.87 180.41 L500.63 180.08 L501.39 179.75 L502.14 179.42 L502.90 179.10 L503.66 178.77 L504.42 178.44 L505.17 178.12 L505.93 177.80 L506.69 177.47 L507.45 177.15 L508.21 176.83 L508.97 176.51 L509.73 176.18 L510.49 175.86 L511.25 175.54 L512.01 175.23 L512.77 174.91 L513.54 174.59 L514.30 174.27 L515.06 173.96 L515.82 173.64 L516.59 173.33 L517.35 173.01 L518.11 172.70 L518.88 172.39 L519.64 172.07 L520.41 171.76 L521.17 171.45 L521.94 171.14 L522.70 170.83 L523.47 170.52 L524.24 170.22 L525.01 169.91 L525.77 169.60 L526.54 169.30 L527.31 168.99 L528.08 168.69 L528.85 168.39 L529.62 168.08 L530.39 167.78 L531.16 167.48 L531.93 167.18 L532.70 166.88 L533.48 166.58 L534.25 166.29 L535.02 165.99 L535.80 165.69 L536.57 165.40 L537.35 165.10 L538.12 164.81 L538.90 164.52 L539.67 164.23 L540.45 163.94 L541.23 163.65 L542.01 163.36 L542.78 163.07 L543.56 162.78 L544.34 162.50 L545.12 162.21 L545.90 161.93 L546.69 161.64 L547.47 161.36 L548.25 161.08 L549.03 160.80 L549.82 160.52 L550.60 160.24 L551.39 159.96 L552.17 159.69 L552.96 159.41 L553.74 159.13 L554.53 158.86 L555.32 158.59 L556.11 158.32 L556.90 158.04 L557.69 157.77 L558.48 157.51 L559.27 157.24 L560.06 156.97 L560.85 156.70 L561.64 156.44 L562.44 156.18 L563.23 155.91 L564.03 155.65 L564.82 155.39 L565.62 155.13 L566.42 154.87 L567.21 154.62 L568.01 154.36 L568.81 154.10 L569.61 153.85 L570.41 153.60 L571.21 153.34 L572.02 153.09 L572.82 152.84 L573.62 152.59 L574.43 152.35 L575.23 152.10 L576.04 151.86 L576.84 151.61 L577.65 151.37 L578.46 151.13 L579.27 150.89 L580.08 150.65 L580.89 150.41" stroke="#00f" stroke-width="1.5" stroke-dasharray="9.2 7.85" stroke-linejoin="round"/>
<path d="M345.52 404.39 L345.65 403.74 L345.77 403.09 L345.89 402.44 L346.01 401.79 L346.13 401.14 L346.25 400.49 L346.38 399.83 L346.50 399.18 L346.62 398.52 L346.74 397.86 L346.86 397.20 L346.98 396.54 L347.10 395.88 L347.21 395.22 L347.33 394.55 L347.45 393.89 L347.57 393.22 L347.69 392.56 L347.81 391.89 L347.93 391.22 L348.05 390.55 L348.17 389.88 L348.29 389.20 L348.41 388.53 L348.53 387.86 L348.65 387.18 L348.77 386.51 L348.90 385.83 L349.02 385.15 L349.14 384.48 L349.26 383.80 L349.38 383.12 L349.51 382.44 L349.63 381.76 L349.76 381.08 L349.88 380.40 L350.01 379.72 L350.13 379.04 L350.26 378.35 L350.39 377.67 L350.51 376.99 L350.64 376.30 L350.77 375.62 L350.90 374.93 L351.03 374.25 L351.17 373.56 L351.30 372.88 L351.43 372.19 L351.57 371.51 L351.70 370.82 L351.84 370.14 L351.97 369.45 L352.11 368.77 L352.25 368.08 L352.39 367.39 L352.53 366.71 L352.68 366.02 L352.82 365.34 L352.97 364.65 L353.11 363.96 L353.26 363.28 L353.41 362.59 L353.56 361.91 L353.71 361.22 L353.86 360.54 L354.02 359.85 L354.17 359.17 L354.33 358.49 L354.49 357.80 L354.65 357.12 L354.81 356.44 L354.98 355.76 L355.14 355.07 L355.31 354.39 L355.47 353.71 L355.64 353.03 L355.82 352.35 L355.99 351.68 L356.16 351.00 L356.34 350.32 L356.52 349.64 L356.70 348.97 L356.88 348.29 L357.07 347.62 L357.25 346.95 L357.44 346.27 L357.63 345.60 L357.82 344.93 L358.02 344.26 L358.21 343.59 L358.41 342.92 L358.61 342.26 L358.82 341.59 L359.02 340.93 L359.23 340.26 L359.44 339.60 L359.65 338.94 L359.86 338.28 L360.08 337.62 L360.30 336.96 L360.52 336.31 L360.74 335.65 L360.97 335.00 L361.20 334.34 L361.43 333.69 L361.66 333.04 L361.90 332.39 L362.13 331.75 L362.38 331.10 L362.62 330.46 L362.87 329.82 L363.12 329.17 L363.37 328.54 L363.62 327.90 L363.88 327.26 L364.14 326.63 L364.40 326.00 L364.67 325.36 L364.94 324.74 L365.21 324.11 L365.48 323.48 L365.76 322.86 L366.04 322.24 L366.33 321.62 L366.61 321.00 L366.90 320.38 L367.20 319.77 L367.49 319.16 L367.79 318.55 L368.09 317.94 L368.40 317.33 L368.71 316.73 L369.02 316.12 L369.34 315.52 L369.66 314.92 L369.98 314.33 L370.30 313.73 L370.63 313.14 L370.96 312.55 L371.30 311.96 L371.64 311.37 L371.98 310.79 L372.33 310.20 L372.68 309.62 L373.03 309.04 L373.38 308.46 L373.74 307.89 L374.11 307.32 L374.47 306.75 L374.85 306.18 L375.22 305.61 L375.60 305.05 L375.98 304.48 L376.37 303.92 L376.75 303.36 L377.15 302.81 L377.54 302.25 L377.95 301.70 L378.35 301.15 L378.76 300.60 L379.17 300.06 L379.58 299.51 L380.00 298.97 L380.43 298.43 L380.85 297.90 L381.28 297.36 L381.71 296.83 L382.15 296.30 L382.59 295.77 L383.03 295.25 L383.48 294.72 L383.92 294.20 L384.38 293.68 L384.83 293.17 L385.29 292.65 L385.75 292.14 L386.21 291.63 L386.68 291.12 L387.15 290.62 L387.62 290.11 L388.10 289.61 L388.58 289.12 L389.06 288.62 L389.54 288.13 L390.03 287.63 L390.52 287.15 L391.01 286.66 L391.50 286.18 L392.00 285.69 L392.50 285.21 L393.00 284.74 L393.50 284.26 L394.01 283.79 L394.52 283.32 L395.03 282.85 L395.54 282.39 L396.05 281.93 L396.57 281.47 L397.09 281.01 L397.61 280.56 L398.13 280.10 L398.66 279.65 L399.18 279.21 L399.71 278.76 L400.24 278.32 L400.78 277.88 L401.31 277.44 L401.85 277.01 L402.38 276.57 L402.92 276.14 L403.46 275.72 L404.01 275.29 L404.55 274.87 L405.10 274.45 L405.65 274.03 L406.19 273.61 L406.75 273.20 L407.30 272.78 L407.85 272.37 L408.41 271.97 L408.97 271.56 L409.53 271.16 L410.09 270.76 L410.65 270.36 L411.21 269.96 L411.78 269.56 L412.34 269.17 L412.91 268.78 L413.48 268.39 L414.05 268.00 L414.62 267.61 L415.19 267.23 L415.77 266.84 L416.34 266.46 L416.92 266.08 L417.50 265.71 L418.08 265.33 L418.66 264.96 L419.24 264.58 L419.82 264.21 L420.41 263.84 L420.99 263.48 L421.58 263.11 L422.16 262.75 L422.75 262.38 L423.34 262.02 L423.93 261.66 L424.52 261.30 L425.12 260.94 L425.71 260.59 L426.30 260.23 L426.90 259.88 L427.49 259.53 L428.09 259.18 L428.69 258.83 L429.29 258.48 L429.89 258.13 L430.49 257.79 L431.09 257.44 L431.69 257.10 L432.29 256.76 L432.90 256.41 L433.50 256.07 L434.11 255.73 L434.71 255.40 L435.32 255.06 L435.92 254.72 L436.53 254.39 L437.14 254.05 L437.75 253.72 L438.36 253.38 L438.97 253.05 L439.58 252.72 L440.19 252.39 L440.80 252.06 L441.41 251.73 L442.02 251.40 L442.63 251.08 L443.25 250.75 L443.86 250.42 L444.47 250.10 L445.09 249.77 L445.70 249.45 L446.32 249.12 L446.93 248.80 L447.55 248.48 L448.16 248.15 L448.78 247.83 L449.39 247.51 L450.01 247.19 L450.62 246.87 L451.24 246.55 L451.86 246.23 L452.47 245.91 L453.09 245.59 L453.71 245.27 L454.32 244.95 L454.94 244.63 L455.56 244.31 L456.17 243.99 L456.79 243.67 L457.41 243.35 L458.02 243.03 L458.64 242.72 L459.26 242.40 L459.87 242.08 L460.49 241.76 L461.10 241.44 L461.72 241.12 L462.33 240.80 L462.95 240.49 L463.56 240.17 L464.18 239.85 L464.79 239.53 L465.41 239.21 L466.02 238.89 L466.64 238.57 L467.25 238.25 L467.87 237.93 L468.48 237.61 L469.09 237.30 L469.71 236.98 L470.32 236.66 L470.93 236.34 L471.55 236.02 L472.16 235.70 L472.77 235.38 L473.39 235.06 L474.00 234.74 L474.61 234.42 L475.22 234.10 L475.84 233.79 L476.45 233.47 L477.06 233.15 L477.67 232.83 L478.29 232.51 L478.90 232.19 L479.51 231.88 L480.12 231.56 L480.74 231.24 L481.35 230.92 L481.96 230.60 L482.57 230.29 L483.18 229.97 L483.80 229.65 L484.41 229.33 L485.02 229.02 L485.63 228.70 L486.24 228.38 L486.86 228.07 L487.47 227.75 L488.08 227.43 L488.69 227.12 L489.31 226.80 L489.92 226.49 L490.53 226.17 L491.14 225.86 L491.75 225.54 L492.37 225.23 L492.98 224.91 L493.59 224.60 L494.20 224.29 L494.82 223.97 L495.43 223.66 L496.04 223.34 L496.66 223.03 L497.27 222.72 L497.88 222.41 L498.49 222.10 L499.11 221.78 L499.72 221.47 L500.33 221.16 L500.95 220.85 L501.56 220.54 L502.18 220.23 L502.79 219.92 L503.40 219.61 L504.02 219.30 L504.63 218.99 L505.25 218.69 L505.86 218.38 L506.48 218.07 L507.09 217.76 L507.71 217.46 L508.32 217.15 L508.94 216.84 L509.55 216.54 L510.17 216.23 L510.79 215.93 L511.40 215.62 L512.02 215.32 L512.63 215.02 L513.25 214.71 L513.87 214.41 L514.49 214.11 L515.10 213.81 L515.72 213.51 L516.34 213.20 L516.96 212.90 L517.58 212.60 L518.20 212.31 L518.81 212.01 L519.43 211.71 L520.05 211.41 L520.67 211.11 L521.29 210.82 L521.91 210.52 L522.53 210.22 L523.16 209.93 L523.78 209.63 L524.40 209.34 L525.02 209.05 L525.64 208.75 L526.27 208.46 L526.89 208.17 L527.51 207.88 L528.14 207.59 L528.76 207.30 L529.38 207.01 L530.01 206.72 L530.63 206.43 L531.26 206.14 L531.88 205.86 L532.51 205.57 L533.14 205.29 L533.76 205.00 L534.39 204.72 L535.02 204.43 L535.64 204.15 L536.27 203.87 L536.90 203.59 L537.53 203.31 L538.16 203.02 L538.79 202.75 L539.42 202.47 L540.05 202.19 L540.68 201.91 L541.31 201.63 L541.94 201.36 L542.58 201.08 L543.21 200.81 L543.84 200.53 L544.48 200.26 L545.11 199.99 L545.75 199.72 L546.38 199.45 L547.02 199.18 L547.65 198.91 L548.29 198.64 L548.93 198.37 L549.56 198.10 L550.20 197.84 L550.84 197.57 L551.48 197.31 L552.12 197.05 L552.76 196.78 L553.40 196.52 L554.04 196.26 L554.68 196.00 L555.32 195.74 L555.97 195.48 L556.61 195.22 L557.25 194.97 L557.90 194.71 L558.54 194.46 L559.19 194.20 L559.83 193.95 L560.48 193.70 L561.13 193.45 L561.77 193.20 L562.42 192.95 L563.07 192.70 L563.72 192.45 L564.37 192.20 L565.02 191.96 L565.67 191.71 L566.32 191.47 L566.98 191.23 L567.63 190.98 L568.28 190.74 L568.94 190.50 L569.59 190.26 L570.25 190.03 L570.90 189.79 L571.56 189.55 L572.22 189.32 L572.88 189.09 L573.54 188.85 L574.19 188.62 L574.86 188.39 L575.52 188.16 L576.18 187.93 L576.84 187.70 L577.50 187.48 L578.17 187.25 L578.83 187.03 L579.50 186.80 L580.16 186.58 L580.83 186.36" stroke="#000" stroke-width="1.85" stroke-linejoin="round"/>
<path d="M347.87 405.07 L347.92 404.40 L347.98 403.73 L348.04 403.06 L348.10 402.39 L348.16 401.72 L348.23 401.05 L348.29 400.37 L348.36 399.70 L348.42 399.03 L348.49 398.36 L348.56 397.69 L348.64 397.01 L348.71 396.34 L348.79 395.67 L348.86 395.00 L348.94 394.32 L349.02 393.65 L349.11 392.98 L349.19 392.30 L349.27 391.63 L349.36 390.96 L349.45 390.28 L349.54 389.61 L349.63 388.94 L349.73 388.26 L349.82 387.59 L349.92 386.92 L350.02 386.24 L350.12 385.57 L350.22 384.90 L350.33 384.22 L350.43 383.55 L350.54 382.88 L350.65 382.21 L350.76 381.54 L350.88 380.86 L350.99 380.19 L351.11 379.52 L351.23 378.85 L351.35 378.18 L351.47 377.51 L351.60 376.84 L351.72 376.17 L351.85 375.50 L351.98 374.84 L352.12 374.17 L352.25 373.50 L352.39 372.83 L352.53 372.17 L352.67 371.50 L352.81 370.84 L352.96 370.17 L353.11 369.51 L353.25 368.84 L353.41 368.18 L353.56 367.52 L353.72 366.86 L353.87 366.20 L354.03 365.54 L354.20 364.88 L354.36 364.22 L354.53 363.56 L354.70 362.90 L354.87 362.24 L355.04 361.59 L355.22 360.93 L355.39 360.28 L355.57 359.63 L355.76 358.97 L355.94 358.32 L356.13 357.67 L356.32 357.02 L356.51 356.37 L356.70 355.73 L356.90 355.08 L357.10 354.43 L357.30 353.79 L357.50 353.15 L357.71 352.50 L357.92 351.86 L358.13 351.22 L358.34 350.58 L358.56 349.94 L358.77 349.31 L359.00 348.67 L359.22 348.04 L359.44 347.40 L359.67 346.77 L359.90 346.14 L360.14 345.51 L360.37 344.88 L360.61 344.26 L360.85 343.63 L361.10 343.01 L361.34 342.38 L361.59 341.76 L361.84 341.14 L362.10 340.52 L362.36 339.91 L362.62 339.29 L362.88 338.68 L363.14 338.06 L363.41 337.45 L363.68 336.84 L363.96 336.24 L364.23 335.63 L364.51 335.02 L364.79 334.42 L365.08 333.82 L365.36 333.22 L365.65 332.62 L365.95 332.02 L366.24 331.43 L366.54 330.84 L366.84 330.24 L367.15 329.65 L367.46 329.07 L367.77 328.48 L368.08 327.90 L368.40 327.31 L368.72 326.73 L369.04 326.15 L369.36 325.58 L369.69 325.00 L370.02 324.43 L370.36 323.86 L370.69 323.29 L371.04 322.72 L371.38 322.16 L371.73 321.59 L372.07 321.03 L372.43 320.47 L372.78 319.92 L373.14 319.36 L373.50 318.81 L373.87 318.26 L374.24 317.71 L374.61 317.17 L374.98 316.62 L375.36 316.08 L375.74 315.54 L376.13 315.00 L376.51 314.47 L376.90 313.93 L377.30 313.40 L377.69 312.87 L378.09 312.35 L378.49 311.82 L378.90 311.30 L379.31 310.78 L379.72 310.26 L380.13 309.74 L380.54 309.23 L380.96 308.72 L381.38 308.21 L381.81 307.70 L382.24 307.19 L382.66 306.69 L383.10 306.19 L383.53 305.69 L383.97 305.19 L384.41 304.69 L384.85 304.20 L385.30 303.71 L385.74 303.22 L386.19 302.73 L386.65 302.25 L387.10 301.76 L387.56 301.28 L388.02 300.80 L388.48 300.33 L388.94 299.85 L389.41 299.38 L389.88 298.91 L390.35 298.44 L390.82 297.97 L391.30 297.51 L391.78 297.05 L392.26 296.58 L392.74 296.13 L393.22 295.67 L393.71 295.21 L394.20 294.76 L394.69 294.31 L395.18 293.86 L395.68 293.42 L396.17 292.97 L396.67 292.53 L397.17 292.09 L397.68 291.65 L398.18 291.21 L398.69 290.78 L399.19 290.34 L399.70 289.91 L400.22 289.48 L400.73 289.06 L401.25 288.63 L401.76 288.21 L402.28 287.79 L402.80 287.37 L403.32 286.95 L403.85 286.53 L404.37 286.12 L404.90 285.71 L405.43 285.30 L405.96 284.89 L406.49 284.48 L407.03 284.08 L407.56 283.67 L408.10 283.27 L408.64 282.87 L409.18 282.47 L409.72 282.08 L410.26 281.68 L410.80 281.29 L411.35 280.90 L411.89 280.51 L412.44 280.12 L412.99 279.73 L413.54 279.34 L414.09 278.96 L414.65 278.58 L415.20 278.19 L415.76 277.81 L416.31 277.43 L416.87 277.06 L417.43 276.68 L417.99 276.31 L418.55 275.93 L419.11 275.56 L419.68 275.19 L420.24 274.82 L420.81 274.45 L421.37 274.08 L421.94 273.72 L422.51 273.35 L423.08 272.99 L423.65 272.63 L424.22 272.27 L424.79 271.91 L425.36 271.55 L425.94 271.19 L426.51 270.83 L427.09 270.48 L427.66 270.12 L428.24 269.77 L428.82 269.42 L429.40 269.06 L429.98 268.71 L430.56 268.36 L431.14 268.01 L431.72 267.67 L432.30 267.32 L432.88 266.97 L433.46 266.63 L434.05 266.28 L434.63 265.94 L435.22 265.59 L435.80 265.25 L436.39 264.91 L436.97 264.57 L437.56 264.23 L438.15 263.89 L438.73 263.55 L439.32 263.21 L439.91 262.87 L440.50 262.54 L441.08 262.20 L441.67 261.86 L442.26 261.53 L442.85 261.19 L443.44 260.86 L444.03 260.52 L444.62 260.19 L445.21 259.86 L445.80 259.52 L446.39 259.19 L446.98 258.86 L447.57 258.53 L448.16 258.20 L448.75 257.87 L449.34 257.54 L449.93 257.21 L450.52 256.88 L451.11 256.55 L451.70 256.22 L452.29 255.89 L452.88 255.56 L453.47 255.23 L454.06 254.90 L454.65 254.58 L455.24 254.25 L455.83 253.92 L456.42 253.59 L457.01 253.26 L457.60 252.94 L458.19 252.61 L458.78 252.28 L459.37 251.95 L459.95 251.63 L460.54 251.30 L461.13 250.97 L461.72 250.65 L462.31 250.32 L462.89 250.00 L463.48 249.67 L464.07 249.34 L464.65 249.02 L465.24 248.69 L465.83 248.37 L466.42 248.04 L467.00 247.72 L467.59 247.40 L468.18 247.07 L468.76 246.75 L469.35 246.42 L469.94 246.10 L470.52 245.78 L471.11 245.46 L471.69 245.13 L472.28 244.81 L472.87 244.49 L473.45 244.17 L474.04 243.85 L474.63 243.52 L475.21 243.20 L475.80 242.88 L476.38 242.56 L476.97 242.24 L477.56 241.92 L478.14 241.61 L478.73 241.29 L479.31 240.97 L479.90 240.65 L480.49 240.33 L481.07 240.01 L481.66 239.70 L482.25 239.38 L482.83 239.06 L483.42 238.75 L484.01 238.43 L484.59 238.12 L485.18 237.80 L485.77 237.49 L486.35 237.17 L486.94 236.86 L487.53 236.54 L488.11 236.23 L488.70 235.92 L489.29 235.61 L489.88 235.29 L490.46 234.98 L491.05 234.67 L491.64 234.36 L492.23 234.05 L492.81 233.74 L493.40 233.43 L493.99 233.12 L494.58 232.82 L495.17 232.51 L495.76 232.20 L496.35 231.89 L496.94 231.59 L497.53 231.28 L498.11 230.97 L498.70 230.67 L499.29 230.37 L499.88 230.06 L500.48 229.76 L501.07 229.45 L501.66 229.15 L502.25 228.85 L502.84 228.55 L503.43 228.25 L504.02 227.95 L504.61 227.65 L505.21 227.35 L505.80 227.05 L506.39 226.75 L506.98 226.45 L507.58 226.15 L508.17 225.86 L508.77 225.56 L509.36 225.27 L509.95 224.97 L510.55 224.68 L511.14 224.38 L511.74 224.09 L512.33 223.80 L512.93 223.50 L513.53 223.21 L514.12 222.92 L514.72 222.63 L515.32 222.34 L515.91 222.05 L516.51 221.76 L517.11 221.48 L517.71 221.19 L518.31 220.90 L518.91 220.62 L519.51 220.33 L520.11 220.05 L520.71 219.76 L521.31 219.48 L521.91 219.20 L522.51 218.92 L523.11 218.63 L523.72 218.35 L524.32 218.07 L524.92 217.79 L525.53 217.52 L526.13 217.24 L526.73 216.96 L527.34 216.68 L527.94 216.41 L528.55 216.13 L529.16 215.86 L529.76 215.59 L530.37 215.31 L530.98 215.04 L531.59 214.77 L532.20 214.50 L532.80 214.23 L533.41 213.96 L534.02 213.69 L534.64 213.42 L535.25 213.16 L535.86 212.89 L536.47 212.63 L537.08 212.36 L537.70 212.10 L538.31 211.84 L538.92 211.57 L539.54 211.31 L540.15 211.05 L540.77 210.79 L541.39 210.53 L542.00 210.28 L542.62 210.02 L543.24 209.76 L543.86 209.51 L544.48 209.25 L545.10 209.00 L545.72 208.74 L546.34 208.49 L546.96 208.24 L547.58 207.99 L548.21 207.74 L548.83 207.49 L549.45 207.24 L550.08 207.00 L550.70 206.75 L551.33 206.51 L551.96 206.26 L552.58 206.02 L553.21 205.78 L553.84 205.54 L554.47 205.29 L555.10 205.05 L555.73 204.82 L556.36 204.58 L556.99 204.34 L557.63 204.11 L558.26 203.87 L558.90 203.64 L559.53 203.40 L560.17 203.17 L560.80 202.94 L561.44 202.71 L562.08 202.48 L562.71 202.25 L563.35 202.02 L563.99 201.80 L564.63 201.57 L565.28 201.35 L565.92 201.13 L566.56 200.90 L567.21 200.68 L567.85 200.46 L568.49 200.24 L569.14 200.02 L569.79 199.81 L570.44 199.59 L571.08 199.37 L571.73 199.16 L572.38 198.95 L573.03 198.74 L573.69 198.52 L574.34 198.31 L574.99 198.11 L575.65 197.90 L576.30 197.69 L576.96 197.49 L577.61 197.28 L578.27 197.08 L578.93 196.87 L579.59 196.67 L580.25 196.47 L580.91 196.27" stroke="#f00" stroke-width="1.7" stroke-dasharray="1.7 3.8" stroke-linejoin="round"/>
<path d="M350.28 404.94 L350.36 404.30 L350.44 403.66 L350.52 403.02 L350.60 402.38 L350.68 401.74 L350.77 401.10 L350.85 400.45 L350.94 399.81 L351.03 399.17 L351.12 398.53 L351.21 397.88 L351.30 397.24 L351.40 396.60 L351.49 395.96 L351.59 395.31 L351.69 394.67 L351.79 394.03 L351.89 393.39 L351.99 392.74 L352.10 392.10 L352.21 391.46 L352.32 390.82 L352.43 390.17 L352.54 389.53 L352.65 388.89 L352.77 388.25 L352.88 387.61 L353.00 386.96 L353.12 386.32 L353.24 385.68 L353.37 385.04 L353.49 384.40 L353.62 383.76 L353.75 383.12 L353.88 382.48 L354.02 381.84 L354.15 381.20 L354.29 380.57 L354.43 379.93 L354.57 379.29 L354.71 378.66 L354.86 378.02 L355.00 377.38 L355.15 376.75 L355.30 376.11 L355.45 375.48 L355.61 374.85 L355.77 374.21 L355.92 373.58 L356.09 372.95 L356.25 372.32 L356.41 371.69 L356.58 371.06 L356.75 370.43 L356.92 369.80 L357.10 369.18 L357.27 368.55 L357.45 367.93 L357.63 367.30 L357.82 366.68 L358.00 366.06 L358.19 365.43 L358.38 364.81 L358.57 364.19 L358.77 363.58 L358.96 362.96 L359.16 362.34 L359.36 361.72 L359.57 361.11 L359.77 360.50 L359.98 359.88 L360.20 359.27 L360.41 358.66 L360.63 358.05 L360.84 357.45 L361.07 356.84 L361.29 356.23 L361.52 355.63 L361.75 355.03 L361.98 354.42 L362.21 353.82 L362.45 353.22 L362.69 352.63 L362.93 352.03 L363.18 351.44 L363.43 350.84 L363.68 350.25 L363.93 349.66 L364.18 349.07 L364.44 348.48 L364.71 347.90 L364.97 347.31 L365.24 346.73 L365.51 346.15 L365.78 345.57 L366.06 344.99 L366.33 344.41 L366.62 343.84 L366.90 343.26 L367.19 342.69 L367.48 342.12 L367.77 341.55 L368.07 340.99 L368.37 340.42 L368.67 339.86 L368.97 339.30 L369.28 338.74 L369.59 338.18 L369.91 337.63 L370.23 337.07 L370.55 336.52 L370.87 335.97 L371.20 335.42 L371.53 334.88 L371.86 334.33 L372.20 333.79 L372.54 333.25 L372.88 332.71 L373.23 332.18 L373.58 331.64 L373.93 331.11 L374.28 330.58 L374.64 330.05 L375.01 329.53 L375.37 329.01 L375.74 328.49 L376.12 327.97 L376.49 327.45 L376.87 326.94 L377.25 326.43 L377.64 325.92 L378.03 325.41 L378.42 324.90 L378.81 324.40 L379.21 323.90 L379.61 323.40 L380.01 322.90 L380.42 322.40 L380.83 321.91 L381.24 321.42 L381.66 320.93 L382.07 320.44 L382.49 319.96 L382.92 319.48 L383.34 319.00 L383.77 318.52 L384.20 318.04 L384.63 317.56 L385.07 317.09 L385.51 316.62 L385.95 316.15 L386.39 315.68 L386.84 315.22 L387.29 314.75 L387.74 314.29 L388.19 313.83 L388.64 313.38 L389.10 312.92 L389.56 312.47 L390.02 312.01 L390.48 311.56 L390.95 311.12 L391.42 310.67 L391.89 310.22 L392.36 309.78 L392.83 309.34 L393.31 308.90 L393.78 308.46 L394.26 308.03 L394.74 307.59 L395.22 307.16 L395.71 306.73 L396.19 306.30 L396.68 305.87 L397.17 305.45 L397.66 305.02 L398.15 304.60 L398.65 304.18 L399.14 303.76 L399.64 303.35 L400.14 302.93 L400.64 302.52 L401.14 302.11 L401.64 301.70 L402.14 301.29 L402.65 300.88 L403.15 300.47 L403.66 300.07 L404.17 299.67 L404.68 299.27 L405.19 298.87 L405.70 298.47 L406.21 298.07 L406.72 297.68 L407.24 297.29 L407.75 296.89 L408.27 296.50 L408.78 296.12 L409.30 295.73 L409.82 295.34 L410.34 294.96 L410.86 294.58 L411.38 294.19 L411.90 293.81 L412.42 293.44 L412.94 293.06 L413.46 292.68 L413.99 292.31 L414.51 291.94 L415.03 291.56 L415.56 291.19 L416.08 290.83 L416.61 290.46 L417.14 290.09 L417.66 289.73 L418.19 289.36 L418.72 289.00 L419.25 288.64 L419.78 288.28 L420.31 287.92 L420.84 287.56 L421.37 287.21 L421.90 286.85 L422.43 286.50 L422.96 286.14 L423.50 285.79 L424.03 285.44 L424.56 285.09 L425.10 284.74 L425.63 284.40 L426.17 284.05 L426.71 283.70 L427.24 283.36 L427.78 283.02 L428.32 282.67 L428.85 282.33 L429.39 281.99 L429.93 281.65 L430.47 281.32 L431.01 280.98 L431.55 280.64 L432.09 280.31 L432.64 279.97 L433.18 279.64 L433.72 279.30 L434.26 278.97 L434.81 278.64 L435.35 278.31 L435.89 277.98 L436.44 277.65 L436.99 277.32 L437.53 276.99 L438.08 276.67 L438.62 276.34 L439.17 276.01 L439.72 275.69 L440.27 275.37 L440.82 275.04 L441.36 274.72 L441.91 274.40 L442.46 274.08 L443.01 273.75 L443.57 273.43 L444.12 273.11 L444.67 272.80 L445.22 272.48 L445.77 272.16 L446.33 271.84 L446.88 271.52 L447.43 271.21 L447.99 270.89 L448.54 270.58 L449.10 270.26 L449.65 269.95 L450.21 269.63 L450.76 269.32 L451.32 269.00 L451.88 268.69 L452.44 268.38 L452.99 268.06 L453.55 267.75 L454.11 267.44 L454.67 267.13 L455.23 266.82 L455.79 266.51 L456.35 266.20 L456.91 265.89 L457.47 265.58 L458.03 265.27 L458.59 264.96 L459.15 264.65 L459.72 264.34 L460.28 264.03 L460.84 263.72 L461.41 263.41 L461.97 263.10 L462.53 262.79 L463.10 262.48 L463.66 262.17 L464.23 261.87 L464.79 261.56 L465.36 261.25 L465.93 260.94 L466.49 260.63 L467.06 260.33 L467.63 260.02 L468.19 259.71 L468.76 259.40 L469.33 259.10 L469.90 258.79 L470.47 258.48 L471.04 258.18 L471.61 257.87 L472.18 257.57 L472.75 257.26 L473.32 256.95 L473.89 256.65 L474.46 256.34 L475.03 256.04 L475.60 255.73 L476.17 255.43 L476.75 255.13 L477.32 254.82 L477.89 254.52 L478.46 254.21 L479.04 253.91 L479.61 253.61 L480.19 253.30 L480.76 253.00 L481.33 252.70 L481.91 252.40 L482.48 252.09 L483.06 251.79 L483.63 251.49 L484.21 251.19 L484.79 250.89 L485.36 250.59 L485.94 250.29 L486.52 249.99 L487.09 249.69 L487.67 249.39 L488.25 249.09 L488.83 248.79 L489.40 248.49 L489.98 248.19 L490.56 247.89 L491.14 247.60 L491.72 247.30 L492.30 247.00 L492.88 246.70 L493.46 246.41 L494.03 246.11 L494.61 245.82 L495.20 245.52 L495.78 245.22 L496.36 244.93 L496.94 244.63 L497.52 244.34 L498.10 244.05 L498.68 243.75 L499.26 243.46 L499.84 243.17 L500.43 242.87 L501.01 242.58 L501.59 242.29 L502.17 242.00 L502.76 241.71 L503.34 241.42 L503.92 241.13 L504.50 240.84 L505.09 240.55 L505.67 240.26 L506.26 239.97 L506.84 239.68 L507.42 239.39 L508.01 239.10 L508.59 238.82 L509.18 238.53 L509.76 238.24 L510.35 237.96 L510.93 237.67 L511.52 237.39 L512.10 237.10 L512.69 236.82 L513.27 236.53 L513.86 236.25 L514.44 235.96 L515.03 235.68 L515.62 235.40 L516.20 235.12 L516.79 234.84 L517.37 234.56 L517.96 234.27 L518.55 233.99 L519.13 233.72 L519.72 233.44 L520.31 233.16 L520.90 232.88 L521.48 232.60 L522.07 232.32 L522.66 232.05 L523.24 231.77 L523.83 231.49 L524.42 231.22 L525.01 230.94 L525.59 230.67 L526.18 230.40 L526.77 230.12 L527.36 229.85 L527.95 229.58 L528.53 229.31 L529.12 229.03 L529.71 228.76 L530.30 228.49 L530.89 228.22 L531.48 227.95 L532.07 227.69 L532.65 227.42 L533.24 227.15 L533.83 226.88 L534.42 226.62 L535.01 226.35 L535.60 226.08 L536.19 225.82 L536.77 225.55 L537.36 225.29 L537.95 225.03 L538.54 224.76 L539.13 224.50 L539.72 224.24 L540.31 223.98 L540.90 223.72 L541.49 223.46 L542.08 223.20 L542.66 222.94 L543.25 222.68 L543.84 222.43 L544.43 222.17 L545.02 221.91 L545.61 221.66 L546.20 221.40 L546.79 221.15 L547.38 220.89 L547.97 220.64 L548.56 220.39 L549.14 220.14 L549.73 219.88 L550.32 219.63 L550.91 219.38 L551.50 219.13 L552.09 218.89 L552.68 218.64 L553.27 218.39 L553.86 218.14 L554.44 217.90 L555.03 217.65 L555.62 217.41 L556.21 217.16 L556.80 216.92 L557.39 216.68 L557.98 216.43 L558.57 216.19 L559.15 215.95 L559.74 215.71 L560.33 215.47 L560.92 215.23 L561.51 214.99 L562.09 214.76 L562.68 214.52 L563.27 214.28 L563.86 214.05 L564.45 213.81 L565.03 213.58 L565.62 213.35 L566.21 213.11 L566.80 212.88 L567.38 212.65 L567.97 212.42 L568.56 212.19 L569.14 211.96 L569.73 211.74 L570.32 211.51 L570.90 211.28 L571.49 211.06 L572.08 210.83 L572.66 210.61 L573.25 210.38 L573.84 210.16 L574.42 209.94 L575.01 209.72 L575.59 209.50 L576.18 209.28 L576.76 209.06 L577.35 208.84 L577.94 208.62 L578.52 208.41 L579.11 208.19 L579.69 207.97 L580.27 207.76" stroke="#00f" stroke-width="1.5" stroke-dasharray="9.2 7.85" stroke-linejoin="round"/>
</g>
<path d="M113.26 401.75V395.05M113.26 4.25V10.95M121.73 401.75V395.05M121.73 4.25V10.95M127.74 401.75V395.05M127.74 4.25V10.95M132.40 401.75V395.05M132.40 4.25V10.95M136.20 401.75V395.05M136.20 4.25V10.95M139.42 401.75V395.05M139.42 4.25V10.95M142.21 401.75V395.05M142.21 4.25V10.95M144.67 401.75V395.05M144.67 4.25V10.95M146.87 401.75V388.25M146.87 4.25V17.75M161.34 401.75V395.05M161.34 4.25V10.95M169.81 401.75V395.05M169.81 4.25V10.95M175.82 401.75V395.05M175.82 4.25V10.95M180.48 401.75V395.05M180.48 4.25V10.95M184.28 401.75V395.05M184.28 4.25V10.95M187.50 401.75V395.05M187.50 4.25V10.95M190.29 401.75V395.05M190.29 4.25V10.95M192.75 401.75V395.05M192.75 4.25V10.95M194.95 401.75V388.25M194.95 4.25V17.75M209.42 401.75V395.05M209.42 4.25V10.95M217.89 401.75V395.05M217.89 4.25V10.95M223.90 401.75V395.05M223.90 4.25V10.95M228.56 401.75V395.05M228.56 4.25V10.95M232.36 401.75V395.05M232.36 4.25V10.95M235.58 401.75V395.05M235.58 4.25V10.95M238.37 401.75V395.05M238.37 4.25V10.95M240.83 401.75V395.05M240.83 4.25V10.95M243.03 401.75V388.25M243.03 4.25V17.75M257.50 401.75V395.05M257.50 4.25V10.95M265.97 401.75V395.05M265.97 4.25V10.95M271.98 401.75V395.05M271.98 4.25V10.95M276.64 401.75V395.05M276.64 4.25V10.95M280.44 401.75V395.05M280.44 4.25V10.95M283.66 401.75V395.05M283.66 4.25V10.95M286.45 401.75V395.05M286.45 4.25V10.95M288.91 401.75V395.05M288.91 4.25V10.95M291.11 401.75V388.25M291.11 4.25V17.75M305.58 401.75V395.05M305.58 4.25V10.95M314.05 401.75V395.05M314.05 4.25V10.95M320.06 401.75V395.05M320.06 4.25V10.95M324.72 401.75V395.05M324.72 4.25V10.95M328.52 401.75V395.05M328.52 4.25V10.95M331.74 401.75V395.05M331.74 4.25V10.95M334.53 401.75V395.05M334.53 4.25V10.95M336.99 401.75V395.05M336.99 4.25V10.95M339.19 401.75V388.25M339.19 4.25V17.75M353.66 401.75V395.05M353.66 4.25V10.95M362.13 401.75V395.05M362.13 4.25V10.95M368.14 401.75V395.05M368.14 4.25V10.95M372.80 401.75V395.05M372.80 4.25V10.95M376.60 401.75V395.05M376.60 4.25V10.95M379.82 401.75V395.05M379.82 4.25V10.95M382.61 401.75V395.05M382.61 4.25V10.95M385.07 401.75V395.05M385.07 4.25V10.95M387.27 401.75V388.25M387.27 4.25V17.75M401.74 401.75V395.05M401.74 4.25V10.95M410.21 401.75V395.05M410.21 4.25V10.95M416.22 401.75V395.05M416.22 4.25V10.95M420.88 401.75V395.05M420.88 4.25V10.95M424.68 401.75V395.05M424.68 4.25V10.95M427.90 401.75V395.05M427.90 4.25V10.95M430.69 401.75V395.05M430.69 4.25V10.95M433.15 401.75V395.05M433.15 4.25V10.95M435.35 401.75V388.25M435.35 4.25V17.75M449.82 401.75V395.05M449.82 4.25V10.95M458.29 401.75V395.05M458.29 4.25V10.95M464.30 401.75V395.05M464.30 4.25V10.95M468.96 401.75V395.05M468.96 4.25V10.95M472.76 401.75V395.05M472.76 4.25V10.95M475.98 401.75V395.05M475.98 4.25V10.95M478.77 401.75V395.05M478.77 4.25V10.95M481.23 401.75V395.05M481.23 4.25V10.95M483.43 401.75V388.25M483.43 4.25V17.75M497.90 401.75V395.05M497.90 4.25V10.95M506.37 401.75V395.05M506.37 4.25V10.95M512.38 401.75V395.05M512.38 4.25V10.95M517.04 401.75V395.05M517.04 4.25V10.95M520.84 401.75V395.05M520.84 4.25V10.95M524.06 401.75V395.05M524.06 4.25V10.95M526.85 401.75V395.05M526.85 4.25V10.95M529.31 401.75V395.05M529.31 4.25V10.95M531.51 401.75V388.25M531.51 4.25V17.75M545.98 401.75V395.05M545.98 4.25V10.95M554.45 401.75V395.05M554.45 4.25V10.95M560.46 401.75V395.05M560.46 4.25V10.95M565.12 401.75V395.05M565.12 4.25V10.95M568.92 401.75V395.05M568.92 4.25V10.95M572.14 401.75V395.05M572.14 4.25V10.95M574.93 401.75V395.05M574.93 4.25V10.95M577.39 401.75V395.05M577.39 4.25V10.95M99.20 387.47H105.90M578.75 387.47H572.05M99.20 378.69H105.90M578.75 378.69H572.05M99.20 372.47H105.90M578.75 372.47H572.05M99.20 367.64H105.90M578.75 367.64H572.05M99.20 363.70H105.90M578.75 363.70H572.05M99.20 360.37H105.90M578.75 360.37H572.05M99.20 357.48H105.90M578.75 357.48H572.05M99.20 354.93H105.90M578.75 354.93H572.05M99.20 352.65H112.70M578.75 352.65H565.25M99.20 337.66H105.90M578.75 337.66H572.05M99.20 328.88H105.90M578.75 328.88H572.05M99.20 322.66H105.90M578.75 322.66H572.05M99.20 317.83H105.90M578.75 317.83H572.05M99.20 313.89H105.90M578.75 313.89H572.05M99.20 310.56H105.90M578.75 310.56H572.05M99.20 307.67H105.90M578.75 307.67H572.05M99.20 305.12H105.90M578.75 305.12H572.05M99.20 302.84H112.70M578.75 302.84H565.25M99.20 287.85H105.90M578.75 287.85H572.05M99.20 279.07H105.90M578.75 279.07H572.05M99.20 272.85H105.90M578.75 272.85H572.05M99.20 268.02H105.90M578.75 268.02H572.05M99.20 264.08H105.90M578.75 264.08H572.05M99.20 260.75H105.90M578.75 260.75H572.05M99.20 257.86H105.90M578.75 257.86H572.05M99.20 255.31H105.90M578.75 255.31H572.05M99.20 253.03H112.70M578.75 253.03H565.25M99.20 238.04H105.90M578.75 238.04H572.05M99.20 229.26H105.90M578.75 229.26H572.05M99.20 223.04H105.90M578.75 223.04H572.05M99.20 218.21H105.90M578.75 218.21H572.05M99.20 214.27H105.90M578.75 214.27H572.05M99.20 210.94H105.90M578.75 210.94H572.05M99.20 208.05H105.90M578.75 208.05H572.05M99.20 205.50H105.90M578.75 205.50H572.05M99.20 203.22H112.70M578.75 203.22H565.25M99.20 188.23H105.90M578.75 188.23H572.05M99.20 179.45H105.90M578.75 179.45H572.05M99.20 173.23H105.90M578.75 173.23H572.05M99.20 168.40H105.90M578.75 168.40H572.05M99.20 164.46H105.90M578.75 164.46H572.05M99.20 161.13H105.90M578.75 161.13H572.05M99.20 158.24H105.90M578.75 158.24H572.05M99.20 155.69H105.90M578.75 155.69H572.05M99.20 153.41H112.70M578.75 153.41H565.25M99.20 138.42H105.90M578.75 138.42H572.05M99.20 129.64H105.90M578.75 129.64H572.05M99.20 123.42H105.90M578.75 123.42H572.05M99.20 118.59H105.90M578.75 118.59H572.05M99.20 114.65H105.90M578.75 114.65H572.05M99.20 111.32H105.90M578.75 111.32H572.05M99.20 108.43H105.90M578.75 108.43H572.05M99.20 105.88H105.90M578.75 105.88H572.05M99.20 103.60H112.70M578.75 103.60H565.25M99.20 88.61H105.90M578.75 88.61H572.05M99.20 79.83H105.90M578.75 79.83H572.05M99.20 73.61H105.90M578.75 73.61H572.05M99.20 68.78H105.90M578.75 68.78H572.05M99.20 64.84H105.90M578.75 64.84H572.05M99.20 61.51H105.90M578.75 61.51H572.05M99.20 58.62H105.90M578.75 58.62H572.05M99.20 56.07H105.90M578.75 56.07H572.05M99.20 53.79H112.70M578.75 53.79H565.25M99.20 38.80H105.90M578.75 38.80H572.05M99.20 30.02H105.90M578.75 30.02H572.05M99.20 23.80H105.90M578.75 23.80H572.05M99.20 18.97H105.90M578.75 18.97H572.05M99.20 15.03H105.90M578.75 15.03H572.05M99.20 11.70H105.90M578.75 11.70H572.05M99.20 8.81H105.90M578.75 8.81H572.05M99.20 6.26H105.90M578.75 6.26H572.05M99.20 3.98H112.70M578.75 3.98H565.25" stroke="#000" stroke-width="1.35" fill="none"/>
<rect x="99.20" y="4.25" width="479.55" height="397.50" fill="none" stroke="#000" stroke-width="1.9"/>
<text x="131.97" y="428.40" font-size="21.43" font-family="Liberation Serif" textLength="9.60" lengthAdjust="spacingAndGlyphs" stroke="#000" stroke-width="0.25">1</text><text x="141.88" y="428.40" font-size="21.43" font-family="Liberation Serif" textLength="14.17" lengthAdjust="spacingAndGlyphs" stroke="#000" stroke-width="0.25">0</text>
<text x="155.53" y="422.30" font-size="11.38" font-family="Liberation Sans" font-weight="bold" textLength="7.79" lengthAdjust="spacingAndGlyphs" >2</text>
<text x="180.05" y="428.40" font-size="21.43" font-family="Liberation Serif" textLength="9.60" lengthAdjust="spacingAndGlyphs" stroke="#000" stroke-width="0.25">1</text><text x="189.96" y="428.40" font-size="21.43" font-family="Liberation Serif" textLength="14.17" lengthAdjust="spacingAndGlyphs" stroke="#000" stroke-width="0.25">0</text>
<text x="203.84" y="422.30" font-size="11.38" font-family="Liberation Sans" font-weight="bold" textLength="7.55" lengthAdjust="spacingAndGlyphs" >3</text>
<text x="228.13" y="428.40" font-size="21.43" font-family="Liberation Serif" textLength="9.60" lengthAdjust="spacingAndGlyphs" stroke="#000" stroke-width="0.25">1</text><text x="238.04" y="428.40" font-size="21.43" font-family="Liberation Serif" textLength="14.17" lengthAdjust="spacingAndGlyphs" stroke="#000" stroke-width="0.25">0</text>
<text x="252.13" y="422.30" font-size="11.38" font-family="Liberation Sans" font-weight="bold" textLength="6.92" lengthAdjust="spacingAndGlyphs" >4</text>
<text x="276.21" y="428.40" font-size="21.43" font-family="Liberation Serif" textLength="9.60" lengthAdjust="spacingAndGlyphs" stroke="#000" stroke-width="0.25">1</text><text x="286.12" y="428.40" font-size="21.43" font-family="Liberation Serif" textLength="14.17" lengthAdjust="spacingAndGlyphs" stroke="#000" stroke-width="0.25">0</text>
<text x="300.00" y="422.30" font-size="11.38" font-family="Liberation Sans" font-weight="bold" textLength="7.55" lengthAdjust="spacingAndGlyphs" >5</text>
<text x="324.29" y="428.40" font-size="21.43" font-family="Liberation Serif" textLength="9.60" lengthAdjust="spacingAndGlyphs" stroke="#000" stroke-width="0.25">1</text><text x="334.20" y="428.40" font-size="21.43" font-family="Liberation Serif" textLength="14.17" lengthAdjust="spacingAndGlyphs" stroke="#000" stroke-width="0.25">0</text>
<text x="347.85" y="422.30" font-size="11.38" font-family="Liberation Sans" font-weight="bold" textLength="7.79" lengthAdjust="spacingAndGlyphs" >6</text>
<text x="372.37" y="428.40" font-size="21.43" font-family="Liberation Serif" textLength="9.60" lengthAdjust="spacingAndGlyphs" stroke="#000" stroke-width="0.25">1</text><text x="382.28" y="428.40" font-size="21.43" font-family="Liberation Serif" textLength="14.17" lengthAdjust="spacingAndGlyphs" stroke="#000" stroke-width="0.25">0</text>
<text x="395.92" y="422.30" font-size="11.38" font-family="Liberation Sans" font-weight="bold" textLength="8.04" lengthAdjust="spacingAndGlyphs" >7</text>
<text x="420.45" y="428.40" font-size="21.43" font-family="Liberation Serif" textLength="9.60" lengthAdjust="spacingAndGlyphs" stroke="#000" stroke-width="0.25">1</text><text x="430.36" y="428.40" font-size="21.43" font-family="Liberation Serif" textLength="14.17" lengthAdjust="spacingAndGlyphs" stroke="#000" stroke-width="0.25">0</text>
<text x="444.01" y="422.30" font-size="11.38" font-family="Liberation Sans" font-weight="bold" textLength="7.79" lengthAdjust="spacingAndGlyphs" >8</text>
<text x="468.53" y="428.40" font-size="21.43" font-family="Liberation Serif" textLength="9.60" lengthAdjust="spacingAndGlyphs" stroke="#000" stroke-width="0.25">1</text><text x="478.44" y="428.40" font-size="21.43" font-family="Liberation Serif" textLength="14.17" lengthAdjust="spacingAndGlyphs" stroke="#000" stroke-width="0.25">0</text>
<text x="492.09" y="422.30" font-size="11.38" font-family="Liberation Sans" font-weight="bold" textLength="7.79" lengthAdjust="spacingAndGlyphs" >9</text>
<text x="512.61" y="428.40" font-size="21.43" font-family="Liberation Serif" textLength="9.60" lengthAdjust="spacingAndGlyphs" stroke="#000" stroke-width="0.25">1</text><text x="522.52" y="428.40" font-size="21.43" font-family="Liberation Serif" textLength="14.17" lengthAdjust="spacingAndGlyphs" stroke="#000" stroke-width="0.25">0</text>
<text x="535.77" y="422.30" font-size="11.38" font-family="Liberation Sans" font-weight="bold" textLength="14.99" lengthAdjust="spacingAndGlyphs" >10</text>
<text x="37.90" y="360.05" font-size="21.43" font-family="Liberation Serif" textLength="9.60" lengthAdjust="spacingAndGlyphs" stroke="#000" stroke-width="0.25">1</text><text x="47.82" y="360.05" font-size="21.43" font-family="Liberation Serif" textLength="14.06" lengthAdjust="spacingAndGlyphs" stroke="#000" stroke-width="0.25">0</text>
<path d="M64.2 350.25H71.2" stroke="#000" stroke-width="1.4"/>
<text x="72.79" y="353.65" font-size="11.66" font-family="Liberation Sans" font-weight="bold" textLength="14.74" lengthAdjust="spacingAndGlyphs" >38</text>
<text x="37.90" y="310.24" font-size="21.43" font-family="Liberation Serif" textLength="9.60" lengthAdjust="spacingAndGlyphs" stroke="#000" stroke-width="0.25">1</text><text x="47.82" y="310.24" font-size="21.43" font-family="Liberation Serif" textLength="14.06" lengthAdjust="spacingAndGlyphs" stroke="#000" stroke-width="0.25">0</text>
<path d="M64.2 300.44H71.2" stroke="#000" stroke-width="1.4"/>
<text x="72.79" y="303.84" font-size="11.66" font-family="Liberation Sans" font-weight="bold" textLength="14.95" lengthAdjust="spacingAndGlyphs" >37</text>
<text x="37.90" y="260.43" font-size="21.43" font-family="Liberation Serif" textLength="9.60" lengthAdjust="spacingAndGlyphs" stroke="#000" stroke-width="0.25">1</text><text x="47.82" y="260.43" font-size="21.43" font-family="Liberation Serif" textLength="14.06" lengthAdjust="spacingAndGlyphs" stroke="#000" stroke-width="0.25">0</text>
<path d="M64.2 250.63H71.2" stroke="#000" stroke-width="1.4"/>
<text x="72.79" y="254.03" font-size="11.66" font-family="Liberation Sans" font-weight="bold" textLength="14.74" lengthAdjust="spacingAndGlyphs" >36</text>
<text x="37.90" y="210.62" font-size="21.43" font-family="Liberation Serif" textLength="9.60" lengthAdjust="spacingAndGlyphs" stroke="#000" stroke-width="0.25">1</text><text x="47.82" y="210.62" font-size="21.43" font-family="Liberation Serif" textLength="14.06" lengthAdjust="spacingAndGlyphs" stroke="#000" stroke-width="0.25">0</text>
<path d="M64.2 200.82H71.2" stroke="#000" stroke-width="1.4"/>
<text x="72.79" y="204.22" font-size="11.66" font-family="Liberation Sans" font-weight="bold" textLength="14.74" lengthAdjust="spacingAndGlyphs" >35</text>
<text x="37.90" y="160.81" font-size="21.43" font-family="Liberation Serif" textLength="9.60" lengthAdjust="spacingAndGlyphs" stroke="#000" stroke-width="0.25">1</text><text x="47.82" y="160.81" font-size="21.43" font-family="Liberation Serif" textLength="14.06" lengthAdjust="spacingAndGlyphs" stroke="#000" stroke-width="0.25">0</text>
<path d="M64.2 151.01H71.2" stroke="#000" stroke-width="1.4"/>
<text x="72.80" y="154.41" font-size="11.66" font-family="Liberation Sans" font-weight="bold" textLength="14.32" lengthAdjust="spacingAndGlyphs" >34</text>
<text x="37.90" y="111.00" font-size="21.43" font-family="Liberation Serif" textLength="9.60" lengthAdjust="spacingAndGlyphs" stroke="#000" stroke-width="0.25">1</text><text x="47.82" y="111.00" font-size="21.43" font-family="Liberation Serif" textLength="14.06" lengthAdjust="spacingAndGlyphs" stroke="#000" stroke-width="0.25">0</text>
<path d="M64.2 101.20H71.2" stroke="#000" stroke-width="1.4"/>
<text x="72.79" y="104.60" font-size="11.66" font-family="Liberation Sans" font-weight="bold" textLength="14.74" lengthAdjust="spacingAndGlyphs" >33</text>
<text x="37.90" y="61.19" font-size="21.43" font-family="Liberation Serif" textLength="9.60" lengthAdjust="spacingAndGlyphs" stroke="#000" stroke-width="0.25">1</text><text x="47.82" y="61.19" font-size="21.43" font-family="Liberation Serif" textLength="14.06" lengthAdjust="spacingAndGlyphs" stroke="#000" stroke-width="0.25">0</text>
<path d="M64.2 51.39H71.2" stroke="#000" stroke-width="1.4"/>
<text x="72.79" y="54.79" font-size="11.66" font-family="Liberation Sans" font-weight="bold" textLength="14.74" lengthAdjust="spacingAndGlyphs" >32</text>
<path d="M127.3 43.9H170.7" stroke="#000" stroke-width="2"/>
<path d="M127.2 78.7H170.6" stroke="#f00" stroke-width="1.7" stroke-dasharray="1.7 3.84"/>
<path d="M127.5 113.9H170.8" stroke="#00f" stroke-width="1.5" stroke-dasharray="9.5 7.5"/>
<text x="181.28" y="50.70" font-size="22.30" font-family="Liberation Serif" textLength="13.14" lengthAdjust="spacingAndGlyphs" stroke="#000" stroke-width="0.25">C</text><text x="193.68" y="50.70" font-size="22.30" font-family="Liberation Serif" textLength="13.14" lengthAdjust="spacingAndGlyphs" stroke="#000" stroke-width="0.25">C</text><text x="224.29" y="50.70" font-size="22.30" font-family="Liberation Serif" textLength="14.50" lengthAdjust="spacingAndGlyphs" stroke="#000" stroke-width="0.25">N</text><text x="238.39" y="50.70" font-size="22.30" font-family="Liberation Serif" textLength="12.92" lengthAdjust="spacingAndGlyphs" stroke="#000" stroke-width="0.25">C</text>
<text x="208.23" y="51.96" font-size="24.15" font-family="Liberation Serif" textLength="14.08" lengthAdjust="spacingAndGlyphs" stroke="#000" stroke-width="0.25">+</text>
<text x="180.67" y="85.70" font-size="22.30" font-family="Liberation Serif" textLength="13.37" lengthAdjust="spacingAndGlyphs" stroke="#000" stroke-width="0.25">C</text><text x="193.57" y="85.70" font-size="22.30" font-family="Liberation Serif" textLength="13.37" lengthAdjust="spacingAndGlyphs" stroke="#000" stroke-width="0.25">C</text>
<text x="181.39" y="120.60" font-size="22.30" font-family="Liberation Serif" textLength="14.29" lengthAdjust="spacingAndGlyphs" stroke="#000" stroke-width="0.25">N</text><text x="195.39" y="120.60" font-size="22.30" font-family="Liberation Serif" textLength="12.92" lengthAdjust="spacingAndGlyphs" stroke="#000" stroke-width="0.25">C</text>
<text x="372.27" y="60.60" font-size="22.30" font-family="Liberation Serif" textLength="14.49" lengthAdjust="spacingAndGlyphs" stroke="#000" stroke-width="0.25">S</text><text x="386.45" y="60.60" font-size="22.30" font-family="Liberation Serif" textLength="14.28" lengthAdjust="spacingAndGlyphs" stroke="#000" stroke-width="0.25">M</text>
<text x="475.47" y="300.10" font-size="22.00" font-family="Liberation Serif" textLength="15.38" lengthAdjust="spacingAndGlyphs" stroke="#000" stroke-width="0.25">S</text><text x="490.35" y="300.10" font-size="22.00" font-family="Liberation Serif" textLength="12.62" lengthAdjust="spacingAndGlyphs" stroke="#000" stroke-width="0.25">P</text><text x="502.06" y="300.10" font-size="22.00" font-family="Liberation Serif" textLength="14.62" lengthAdjust="spacingAndGlyphs" stroke="#000" stroke-width="0.25">S</text>
<text x="525.63" y="300.30" font-size="21.79" font-family="Liberation Serif" textLength="12.56" lengthAdjust="spacingAndGlyphs" stroke="#000" stroke-width="0.25">7</text>
<text x="255.08" y="245.30" font-size="21.60" font-family="Liberation Serif" textLength="20.74" lengthAdjust="spacingAndGlyphs" stroke="#000" stroke-width="0.25">m</text><text x="277.16" y="245.30" font-size="21.60" font-family="Liberation Serif" textLength="6.11" lengthAdjust="spacingAndGlyphs" stroke="#000" stroke-width="0.25">i</text><text x="284.05" y="245.30" font-size="21.60" font-family="Liberation Serif" textLength="11.15" lengthAdjust="spacingAndGlyphs" stroke="#000" stroke-width="0.25">n</text>
<text x="307.22" y="245.30" font-size="21.60" font-family="Liberation Serif" textLength="19.08" lengthAdjust="spacingAndGlyphs" stroke="#000" stroke-width="0.25">m</text>
<path d="M310.8 233.6 q2.6 -3.2 5.8 -1.4 t6.2 -1.2" stroke="#000" stroke-width="1.5" fill="none"/>
<text x="292.66" y="462.60" font-size="23.01" font-family="Liberation Serif" textLength="13.29" lengthAdjust="spacingAndGlyphs" stroke="#000" stroke-width="0.25">E</text>
<text x="306.80" y="468.70" font-size="16.21" font-family="Liberation Serif" font-style="italic" textLength="6.86" lengthAdjust="spacingAndGlyphs" stroke="#000" stroke-width="0.25">ν</text>
<text x="325.80" y="463.60" font-size="27.02" font-family="Liberation Serif" textLength="6.39" lengthAdjust="spacingAndGlyphs" stroke="#000" stroke-width="0.25">[</text>
<text x="335.13" y="462.60" font-size="22.80" font-family="Liberation Serif" textLength="15.59" lengthAdjust="spacingAndGlyphs" stroke="#000" stroke-width="0.25">G</text><text x="351.39" y="462.60" font-size="22.80" font-family="Liberation Serif" textLength="11.48" lengthAdjust="spacingAndGlyphs" stroke="#000" stroke-width="0.25">e</text><text x="363.60" y="462.60" font-size="22.80" font-family="Liberation Serif" textLength="15.27" lengthAdjust="spacingAndGlyphs" stroke="#000" stroke-width="0.25">V</text>
<text x="380.01" y="463.60" font-size="27.02" font-family="Liberation Serif" textLength="6.25" lengthAdjust="spacingAndGlyphs" stroke="#000" stroke-width="0.25">]</text>
<g transform="translate(23.8 241.1) rotate(-90)"><text x="-0.84" y="0.00" font-size="22.80" font-family="Liberation Serif" textLength="14.55" lengthAdjust="spacingAndGlyphs" stroke="#000" stroke-width="0.25">σ</text><text x="13.23" y="0.28" font-size="27.14" font-family="Liberation Serif" textLength="8.38" lengthAdjust="spacingAndGlyphs" stroke="#000" stroke-width="0.25">[</text><text x="24.50" y="0.00" font-size="24.80" font-family="Liberation Serif" textLength="9.89" lengthAdjust="spacingAndGlyphs" stroke="#000" stroke-width="0.25">c</text><text x="36.03" y="0.00" font-size="24.80" font-family="Liberation Serif" textLength="18.36" lengthAdjust="spacingAndGlyphs" stroke="#000" stroke-width="0.25">m</text><text x="57.23" y="-7.70" font-size="13.23" font-family="Liberation Sans" font-weight="bold" textLength="8.45" lengthAdjust="spacingAndGlyphs" >2</text><text x="67.27" y="0.28" font-size="27.14" font-family="Liberation Serif" textLength="8.81" lengthAdjust="spacingAndGlyphs" stroke="#000" stroke-width="0.25">]</text></g>
</svg>
</body></html>
